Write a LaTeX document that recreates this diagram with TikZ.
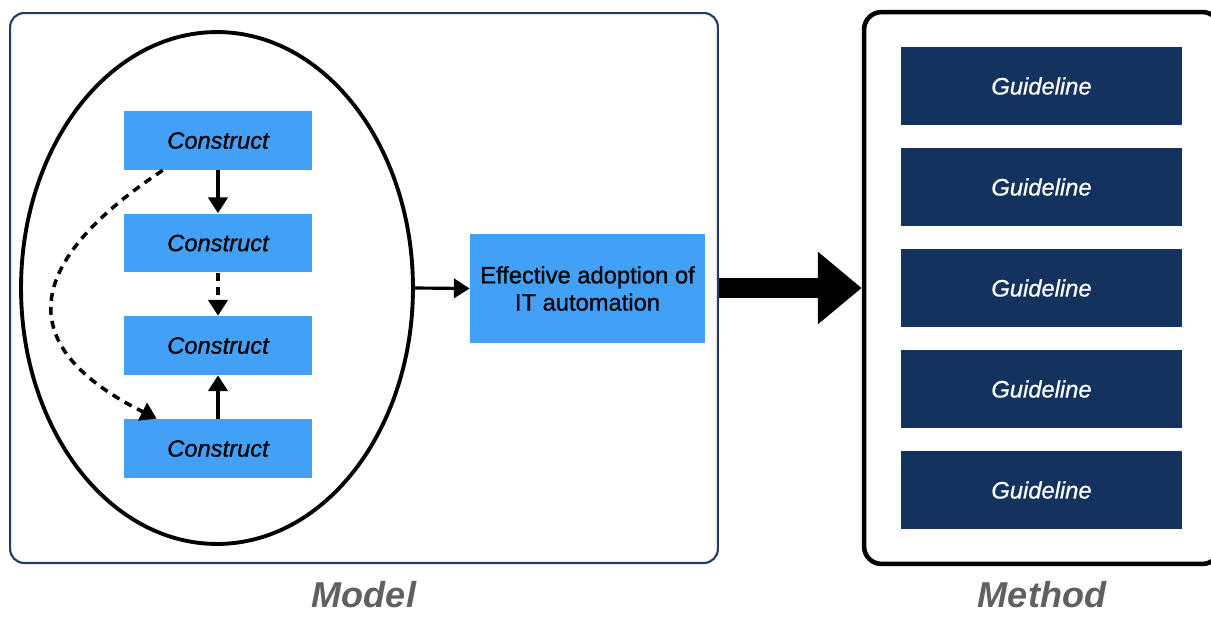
\documentclass[tikz,border=0pt]{standalone}
\usepackage{fontspec}
\setmainfont{Liberation Sans}
\newfontfamily\midfont{Liberation Sans}[FakeBold=0.8]
\usepackage{xcolor}
\usetikzlibrary{arrows.meta,shapes}
\definecolor{constructblue}{RGB}{66,161,246}
\definecolor{guidenavy}{RGB}{19,50,94}
\definecolor{frameblue}{RGB}{31,61,104}
\definecolor{labelgray}{RGB}{96,96,96}

\begin{document}
\begin{tikzpicture}[x=0.02cm,y=-0.02cm,
construct/.style={fill=constructblue,minimum width=3.76cm,minimum height=1.18cm,font=\midfont\fontsize{13.5}{15.5}\selectfont\itshape},
guideline/.style={fill=guidenavy,text=white,minimum width=5.62cm,minimum height=1.56cm,font=\midfont\fontsize{13.5}{15.5}\selectfont\itshape},
link/.style={line width=2pt,-{Triangle[length=9pt,width=11pt]}},
dashlink/.style={link,dash pattern=on 4.5pt off 3.5pt},
caption/.style={text=labelgray,inner sep=0.5pt,font=\fontsize{20.5}{24}\selectfont\bfseries\itshape}]
\path[use as bounding box,clip](0,0)rectangle(1211,616);
% frames
\node[draw=frameblue,line width=1.2pt,rounded corners=8pt,minimum width=14.16cm,minimum height=11cm,inner sep=0](modelbox)at(364,288){};
\node[draw=black,line width=2.6pt,rounded corners=10pt,minimum width=7.12cm,minimum height=11.04cm,inner sep=0](methodbox)at(1042,288){};
\node[caption]at([yshift=-0.62cm]modelbox.south){Model};
\node[caption]at([yshift=-0.62cm]methodbox.south|-modelbox.south){Method};
% model
\node[ellipse,draw,line width=2.2pt,minimum width=7.84cm,minimum height=10.24cm,inner sep=0](cluster)at(217,288){};
\node[construct](c1)at(218,140.5){Construct};
\node[construct](c2)at(218,243){Construct};
\node[construct](c3)at(218,345.5){Construct};
\node[construct](c4)at(218,448.5){Construct};
\node[fill=constructblue,minimum width=4.7cm,minimum height=2.18cm,align=center,font=\midfont\fontsize{13.5}{15.5}\selectfont](adoption)at(587.5,288.5){Effective adoption of\\IT automation};
\draw[link](c1)--(c2);
\draw[dashlink](c2)--(c3);
\draw[link](c4)--(c3);
\draw[dashlink]([xshift=0.78cm]c1.south west)..controls(53,243)and(-13,334)..([xshift=0.66cm]c4.north west);
\draw[link,line width=1.8pt](cluster.east)--(adoption.west);
% method
\foreach \i/\y in {1/86,2/187,3/288,4/389,5/490}
  \node[guideline](g\i)at(1041.5,\y){Guideline};
\draw[line width=11.3pt,-{Triangle[length=25pt,width=39.7pt]}](modelbox.east)--(methodbox.west);
\end{tikzpicture}
\end{document}
